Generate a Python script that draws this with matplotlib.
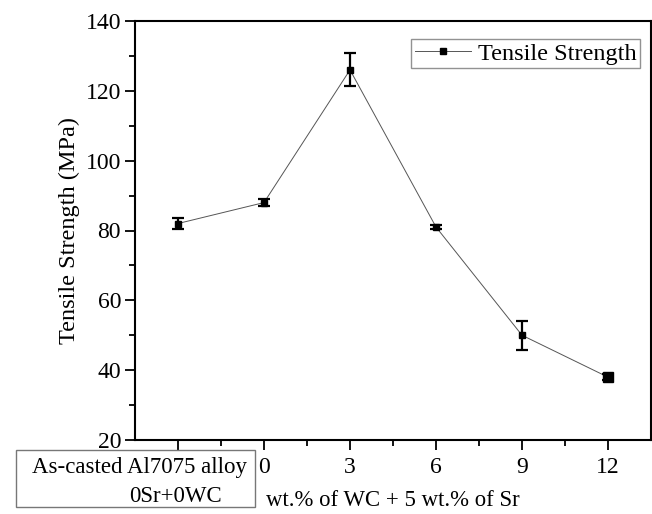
import matplotlib
matplotlib.use('Agg')
import matplotlib.pyplot as plt
from matplotlib.patches import Rectangle
import numpy as np

# datos
categorias = ['', '0', '3', '6', '9', '12']
resistencia = [82, 88, 126, 81, 50, 38]
error = [1.6, 1.1, 4.7, 0.7, 4.1, 0.8]

plt.rcParams['font.family'] = ['Liberation Serif', 'DejaVu Serif']

W, H = 652, 514
fig = plt.figure(figsize=(W / 100, H / 100), dpi=100)
ax = fig.add_axes([135 / W, 1 - 440 / H, 516 / W, 419 / H])

x = np.arange(len(resistencia))
ax.plot(x, resistencia, color='#555555', lw=0.7, zorder=2)
ax.errorbar(x[:-1], resistencia[:-1], yerr=error[:-1], fmt='s', color='black',
            ms=4.5, ecolor='black', elinewidth=1.6, capsize=4, capthick=1.6, zorder=3)
ax.errorbar(x[-1:], resistencia[-1:], yerr=error[-1:], fmt='s', color='black',
            ms=7.5, ecolor='black', elinewidth=1.6, capsize=4, capthick=1.6, zorder=3)
ax.plot([], [], color='#555555', lw=0.7, marker='s', ms=4.5, mfc='black', mec='black',
        label='Tensile Strength')

ax.set_xlim(-0.5, 5.5)
ax.set_ylim(20, 140)
ax.set_xticks(x)
ax.set_xticklabels(categorias)
ax.set_xticks(x[:-1] + 0.5, minor=True)
ax.set_yticks(np.arange(20, 141, 20))
ax.set_yticks(np.arange(30, 140, 20), minor=True)
ax.tick_params(axis='both', which='major', direction='out', length=7, width=1.3,
               labelsize=17, pad=3)
ax.tick_params(axis='x', which='major', pad=5)
ax.tick_params(axis='both', which='minor', direction='out', length=4, width=1.3)
for s in ax.spines.values():
    s.set_linewidth(1.5)

ax.set_ylabel('Tensile Strength (MPa)', fontsize=17.5, labelpad=4)

leg = ax.legend(loc='upper right', fontsize=17.5, frameon=True, fancybox=False,
                edgecolor='#777777', handlelength=2.3, handletextpad=0.3,
                borderpad=0.15, borderaxespad=0, bbox_to_anchor=(0.979, 0.957))
leg.get_frame().set_linewidth(1.0)

# caja de la aleacion base (coordenadas en pixeles de la figura)
caja = Rectangle((16 / W, 1 - 507 / H), 239 / W, 57 / H, transform=fig.transFigure,
                 fc='white', ec='#777777', lw=1.0, zorder=5)
fig.patches.append(caja)
fig.text(140 / W, 1 - 468 / H, 'As-casted Al7075 alloy', fontsize=16.5, ha='center',
         va='center', zorder=6)
fig.text(175 / W, 1 - 496 / H, '0Sr+0WC', fontsize=16.5, ha='center', va='center', zorder=6)
fig.text(266 / W, 1 - 500 / H, 'wt.% of WC + 5 wt.% of Sr', fontsize=16.4,
         ha='left', va='center')

fig.savefig('out.png', dpi=100)
